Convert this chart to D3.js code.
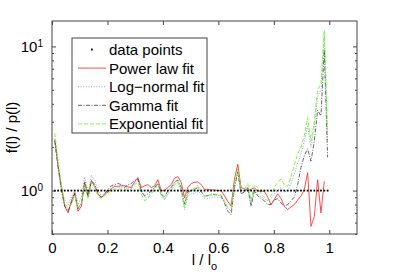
<!DOCTYPE html>
<html>
<head>
<meta charset="utf-8">
<script src="https://cdn.jsdelivr.net/npm/d3@7"></script>
<style>
  body { margin: 0; background: #fff; }
  text { font-family: "Liberation Sans", Arial, sans-serif; }
</style>
</head>
<body>
<div id="chart"></div>
<script>
//data: normalised size l / l_o and ratio f(l) / p(l) for each fit
const lRatio = [0.010, 0.022, 0.034, 0.046, 0.058, 0.070, 0.082, 0.094, 0.106, 0.118,
  0.130, 0.142, 0.154, 0.166, 0.178, 0.190, 0.202, 0.214, 0.226, 0.238,
  0.250, 0.262, 0.274, 0.286, 0.298, 0.310, 0.322, 0.334, 0.346, 0.358,
  0.370, 0.382, 0.394, 0.406, 0.418, 0.430, 0.442, 0.454, 0.466, 0.478,
  0.490, 0.502, 0.514, 0.526, 0.538, 0.550, 0.562, 0.574, 0.586, 0.598,
  0.610, 0.622, 0.634, 0.646, 0.658, 0.670, 0.682, 0.694, 0.706, 0.718,
  0.730, 0.742, 0.754, 0.766, 0.778, 0.790, 0.802, 0.814, 0.826, 0.838,
  0.850, 0.862, 0.874, 0.886, 0.898, 0.910, 0.922, 0.934, 0.946, 0.958,
  0.970, 0.982, 0.994];
const dataPoints = [1, 1, 1, 1, 1, 1, 1, 1, 1, 1, 1, 1, 1, 1, 1, 1, 1, 1, 1, 1,
  1, 1, 1, 1, 1, 1, 1, 1, 1, 1, 1, 1, 1, 1, 1, 1, 1, 1, 1, 1,
  1, 1, 1, 1, 1, 1, 1, 1, 1, 1, 1, 1, 1, 1, 1, 1, 1, 1, 1, 1,
  1, 1, 1, 1, 1, 1, 1, 1, 1, 1, 1, 1, 1, 1, 1, 1, 1, 1, 1, 1,
  1, 1, 1];
const powerLaw = [2.26, 1.5, 1.05, 0.78, 0.70, 0.85, 0.97, 0.72, 0.78, 1.14,
  0.91, 1.16, 1.07, 0.95, 0.89, 0.94, 0.98, 1.03, 1.07, 1.07,
  1.08, 1.08, 1.06, 1.05, 1.15, 1.23, 1.05, 1.08, 1.10, 1.05,
  1.08, 1.19, 1.0, 1.0, 1.05, 1.10, 1.22, 1.25, 1.14, 0.89,
  1.05, 1.12, 1.14, 1.15, 1.10, 1.02, 1.02, 1.01, 1.01, 1.0,
  1.0, 0.92, 0.84, 0.78, 1.2, 1.52, 1.05, 1.03, 1.0, 1.02,
  1.05, 0.99, 0.99, 0.99, 0.90, 0.80, 0.87, 0.95, 0.88, 0.78,
  0.74, 0.77, 0.80, 0.86, 0.92, 1.02, 1.33, 0.565, 0.66, 1.19,
  0.70, 1.16, null];
const logNormal = [2.3, 1.5, 1.05, 0.85, 0.8, 0.9, 1.0, 0.8, 0.9, 1.25,
  0.95, 1.28, 1.18, 1.0, 0.92, 0.96, 1.0, 1.05, 1.08, 1.05,
  1.06, 1.04, 1.03, 1.08, 1.12, 1.18, 1.0, 0.9, 0.9, 0.98,
  1.05, 1.12, 0.94, 0.86, 0.95, 1.0, 1.1, 1.12, 1.0, 0.74,
  0.92, 0.95, 0.96, 1.0, 0.94, 0.88, 0.88, 0.9, 0.9, 0.9,
  0.9, 0.84, 0.76, 0.72, 1.05, 1.35, 0.95, 0.98, 1.05, 0.8,
  1.02, 0.95, 0.9, 0.88, 0.85, 0.88, 0.95, 1.0, 1.05, 0.98,
  1.0, 1.12, 1.3, 1.55, 1.8, 2.2, 2.8, 2.0, 2.8, 4.5,
  5.0, 12, 2.2];
const gammaFit = [2.2, 1.45, 1.0, 0.78, 0.72, 0.82, 0.95, 0.75, 0.82, 1.15,
  0.9, 1.18, 1.1, 0.95, 0.9, 0.95, 1.02, 1.08, 1.1, 1.12,
  1.1, 1.05, 1.1, 1.12, 1.18, 1.2, 1.0, 0.92, 0.95, 1.0,
  1.05, 1.12, 0.95, 0.9, 1.0, 1.05, 1.15, 1.18, 1.05, 0.8,
  0.98, 1.0, 1.02, 1.05, 0.98, 0.92, 0.92, 0.95, 0.94, 0.93,
  0.92, 0.82, 0.72, 0.68, 1.05, 1.35, 0.95, 0.98, 1.05, 0.78,
  1.0, 0.92, 0.88, 0.85, 0.8, 0.8, 0.86, 0.88, 0.82, 0.78,
  0.8, 0.85, 0.9, 1.1, 1.45, 1.75, 1.95, 1.6, 2.2, 3.6,
  3.3, 9.5, 1.7];
const exponential = [2.5, 1.6, 1.1, 0.82, 0.76, 0.8, 0.92, 0.76, 0.82, 1.1,
  0.88, 1.14, 1.05, 0.92, 0.88, 0.92, 0.96, 1.0, 1.03, 1.02,
  1.03, 1.02, 1.0, 1.03, 1.1, 1.15, 0.95, 0.85, 0.88, 0.95,
  1.02, 1.1, 0.92, 0.88, 0.95, 1.0, 1.12, 1.15, 1.0, 0.76,
  0.95, 1.0, 1.05, 1.08, 1.0, 0.9, 0.92, 0.93, 0.93, 0.95,
  0.94, 0.85, 0.76, 0.72, 1.1, 1.42, 1.0, 1.02, 1.12, 0.85,
  1.1, 1.05, 0.95, 0.9, 0.85, 0.92, 1.05, 1.15, 1.2, 1.1,
  1.07, 1.25, 1.5, 1.8, 2.0, 2.4, 3.2, 2.2, 3.0, 5.0,
  5.5, 13, 2.5];
const xTicks = [0, 0.2, 0.4, 0.6, 0.8, 1];
const yTicks = [1, 10];
const yMinorTicks = [0.5, 0.6, 0.7, 0.8, 0.9, 2, 3, 4, 5, 6, 7, 8, 9];
const legendLabels = ["data points", "Power law fit", "Log\u2212normal fit", "Gamma fit", "Exponential fit"];

const width = 395, height = 277;
const plotLeft = 52, plotRight = 357, plotTop = 21, plotBottom = 234;
const axisColor = "#444";

const svg = d3.select("#chart").append("svg")
  .attr("width", width)
  .attr("height", height);

const x = d3.scaleLinear().domain([0, 1.1]).range([plotLeft, plotRight]);
const y = d3.scaleLog().domain([0.5, 15]).range([plotBottom, plotTop]);

//fit series, drawn in plot order
const fits = [
  { values: powerLaw, color: "#ff2020", dash: null, width: 0.8 },
  { values: logNormal, color: "#8c8cff", dash: "1,1.6", width: 0.9 },
  { values: gammaFit, color: "#222", dash: "4,1.5,1,1.5", width: 0.7 },
  { values: exponential, color: "#66ff22", dash: "4,2", width: 0.9 }
];

const line = (values) => d3.line()
  .defined((d, i) => values[i] != null)
  .x((d, i) => x(lRatio[i]))
  .y((d, i) => y(values[i]))(values);

fits.forEach((f) => {
  svg.append("path")
    .attr("d", line(f.values))
    .attr("fill", "none")
    .attr("stroke", f.color)
    .attr("stroke-width", f.width)
    .attr("stroke-dasharray", f.dash);
});

//data points as small black dots
svg.append("g").selectAll("rect")
  .data(dataPoints)
  .enter().append("rect")
  .attr("x", (d, i) => x(lRatio[i]) - 0.9)
  .attr("y", (d) => y(d) - 0.9)
  .attr("width", 1.8)
  .attr("height", 1.8)
  .attr("fill", "#000");

//axes with ticks pointing inwards
const styleAxis = (g) => {
  g.select(".domain").remove();
  g.selectAll("line").attr("stroke", axisColor);
  g.selectAll("text").attr("fill", "#000").style("font-size", "15px");
};

svg.append("g")
  .attr("transform", `translate(0,${plotBottom})`)
  .call(d3.axisBottom(x).tickValues(xTicks).tickSize(-4).tickPadding(8)
    .tickFormat(d3.format("~g")))
  .call(styleAxis);
svg.append("g")
  .attr("transform", `translate(0,${plotTop})`)
  .call(d3.axisTop(x).tickValues(xTicks).tickSize(-4).tickFormat(""))
  .call(styleAxis);

const yLeft = svg.append("g")
  .attr("transform", `translate(${plotLeft},0)`)
  .call(d3.axisLeft(y).tickValues(yTicks).tickSize(-4).tickPadding(9).tickFormat(""))
  .call(styleAxis);
yLeft.selectAll(".tick text").each(function (d) {
  const t = d3.select(this);
  t.append("tspan").text("10");
  t.append("tspan").attr("dy", "-0.5em").style("font-size", "10px").text(Math.round(Math.log10(d)));
});
svg.append("g")
  .attr("transform", `translate(${plotLeft},0)`)
  .call(d3.axisLeft(y).tickValues(yMinorTicks).tickSize(-2).tickFormat(""))
  .call(styleAxis);
svg.append("g")
  .attr("transform", `translate(${plotRight},0)`)
  .call(d3.axisRight(y).tickValues(yTicks).tickSize(-4).tickFormat(""))
  .call(styleAxis);
svg.append("g")
  .attr("transform", `translate(${plotRight},0)`)
  .call(d3.axisRight(y).tickValues(yMinorTicks).tickSize(-2).tickFormat(""))
  .call(styleAxis);

svg.append("rect")
  .attr("x", plotLeft).attr("y", plotTop)
  .attr("width", plotRight - plotLeft).attr("height", plotBottom - plotTop)
  .attr("fill", "none")
  .attr("stroke", axisColor)
  .attr("stroke-width", 1);

//axis titles
svg.append("text")
  .attr("transform", `translate(17,${(plotTop + plotBottom) / 2}) rotate(-90)`)
  .attr("text-anchor", "middle")
  .style("font-size", "15px")
  .text("f(l) / p(l)");

const xTitle = svg.append("text")
  .attr("x", (plotLeft + plotRight) / 2)
  .attr("y", 265)
  .attr("text-anchor", "middle")
  .style("font-size", "15px");
xTitle.append("tspan").text("l / l");
xTitle.append("tspan").attr("dy", 5).style("font-size", "11px").text("o");

//legend
const legend = svg.append("g");
legend.append("rect")
  .attr("x", 72).attr("y", 38)
  .attr("width", 135).attr("height", 95)
  .attr("fill", "#fff")
  .attr("stroke", axisColor)
  .attr("stroke-width", 1);

const legendY = (i) => 49.5 + i * 18.6;
legendLabels.forEach((label, i) => {
  if (i === 0) {
    legend.append("rect")
      .attr("x", 91).attr("y", legendY(i) - 0.9)
      .attr("width", 1.8).attr("height", 1.8)
      .attr("fill", "#000");
  } else {
    const f = fits[i - 1];
    legend.append("line")
      .attr("x1", 78).attr("x2", 106)
      .attr("y1", legendY(i)).attr("y2", legendY(i))
      .attr("stroke", f.color)
      .attr("stroke-width", f.width)
      .attr("stroke-dasharray", f.dash);
  }
  legend.append("text")
    .attr("x", 109)
    .attr("y", legendY(i))
    .attr("dy", "0.36em")
    .style("font-size", "15px")
    .text(label);
});
</script>
</body>
</html>
